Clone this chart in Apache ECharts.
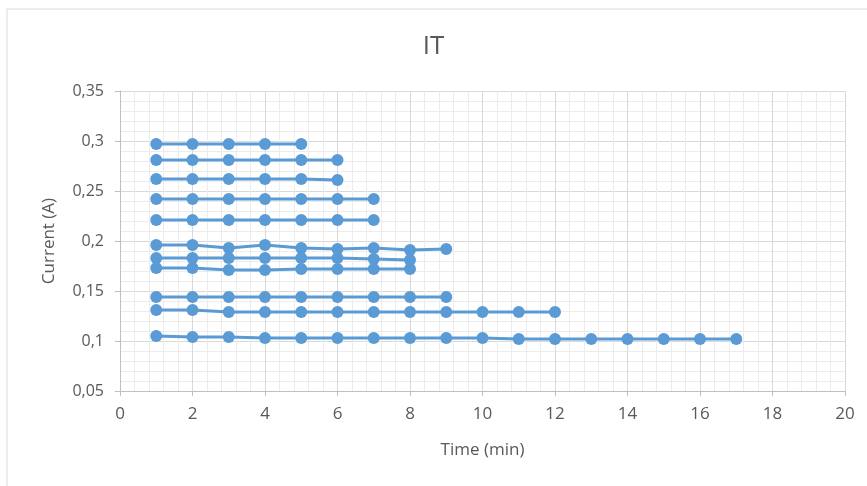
<!DOCTYPE html>
<html>
<head>
<meta charset="utf-8">
<title>IT</title>
<script src="https://cdn.jsdelivr.net/npm/echarts@6/dist/echarts.min.js"></script>
<style>
  html, body { margin: 0; padding: 0; background: #fff; }
  #chart { width: 867px; height: 486px; }
</style>
</head>
<body>
<div id="chart"></div>
<script>
// Current readings (A), one run per array, sampled once a minute from t = 1 min
const run1 = [0.297, 0.297, 0.297, 0.297, 0.297];
const run2 = [0.281, 0.281, 0.281, 0.281, 0.281, 0.281];
const run3 = [0.262, 0.262, 0.262, 0.262, 0.262, 0.261];
const run4 = [0.242, 0.242, 0.242, 0.242, 0.242, 0.242, 0.242];
const run5 = [0.221, 0.221, 0.221, 0.221, 0.221, 0.221, 0.221];
const run6 = [0.196, 0.196, 0.193, 0.196, 0.193, 0.192, 0.193, 0.191, 0.192];
const run7 = [0.183, 0.183, 0.183, 0.183, 0.183, 0.183, 0.182, 0.181];
const run8 = [0.173, 0.173, 0.171, 0.171, 0.172, 0.172, 0.172, 0.172];
const run9 = [0.144, 0.144, 0.144, 0.144, 0.144, 0.144, 0.144, 0.144, 0.144];
const run10 = [0.131, 0.131, 0.129, 0.129, 0.129, 0.129, 0.129, 0.129, 0.129, 0.129, 0.129, 0.129];
const run11 = [0.105, 0.104, 0.104, 0.103, 0.103, 0.103, 0.103, 0.103, 0.103, 0.103, 0.102, 0.102, 0.102, 0.102, 0.102, 0.102, 0.102];

const runs = [run1, run2, run3, run4, run5, run6, run7, run8, run9, run10, run11];

// Axis ranges
const timeMin = 0, timeMax = 20, timeStep = 2;
const currentMin = 0.05, currentMax = 0.35, currentStep = 0.05;

const lineColor = '#5B9BD5';
const textColor = '#595959';
const fontFamily = '"Open Sans", "Noto Sans", sans-serif';

const chart = echarts.init(document.getElementById('chart'), null, { renderer: 'canvas' });

const series = runs.map((values, i) => ({
  name: 'Run ' + (i + 1),
  type: 'line',
  data: values.map((v, k) => [k + 1, v]),
  symbol: 'circle',
  symbolSize: 12,
  showSymbol: true,
  lineStyle: { color: lineColor, width: 3 },
  itemStyle: { color: lineColor },
  emphasis: { disabled: true },
  animation: false,
  z: 3
}));

chart.setOption({
  backgroundColor: '#ffffff',
  animation: false,
  graphic: [{
    type: 'rect',
    shape: { x: 7, y: 9, width: 870, height: 490 },
    style: { fill: 'none', stroke: '#d9d9d9', lineWidth: 1 },
    silent: true,
    z: -10
  }],
  title: {
    text: 'IT',
    left: 'center',
    top: 29,
    textStyle: { color: textColor, fontSize: 26, fontWeight: 'normal', fontFamily: fontFamily }
  },
  grid: { left: 120, right: 22, top: 91, bottom: 95, containLabel: false },
  xAxis: {
    type: 'value',
    min: timeMin,
    max: timeMax,
    interval: timeStep,
    name: 'Time (min)',
    nameLocation: 'middle',
    nameGap: 51,
    nameTextStyle: { color: textColor, fontSize: 17, fontFamily: fontFamily },
    axisLine: { show: true, lineStyle: { color: '#bfbfbf', width: 1 } },
    axisTick: { show: true, length: 5, lineStyle: { color: '#bfbfbf' } },
    axisLabel: { color: textColor, fontSize: 17, margin: 15, fontFamily: fontFamily },
    splitLine: { show: true, lineStyle: { color: '#d9d9d9', width: 1 } },
    minorTick: { show: false, splitNumber: 5 },
    minorSplitLine: { show: true, lineStyle: { color: '#ececec', width: 1 } }
  },
  yAxis: {
    type: 'value',
    min: currentMin,
    max: currentMax,
    interval: currentStep,
    name: 'Current (A)',
    nameLocation: 'middle',
    nameGap: 62,
    nameTextStyle: { color: textColor, fontSize: 17, fontFamily: fontFamily },
    axisLine: { show: true, lineStyle: { color: '#bfbfbf', width: 1 } },
    axisTick: { show: true, length: 5, lineStyle: { color: '#bfbfbf' } },
    axisLabel: {
      color: textColor,
      fontSize: 16,
      margin: 16,
      fontFamily: fontFamily,
      formatter: v => String(+v.toFixed(2)).replace('.', ',')
    },
    splitLine: { show: true, lineStyle: { color: '#d9d9d9', width: 1 } },
    minorTick: { show: false, splitNumber: 5 },
    minorSplitLine: { show: true, lineStyle: { color: '#ececec', width: 1 } }
  },
  series: series
});
</script>
</body>
</html>
